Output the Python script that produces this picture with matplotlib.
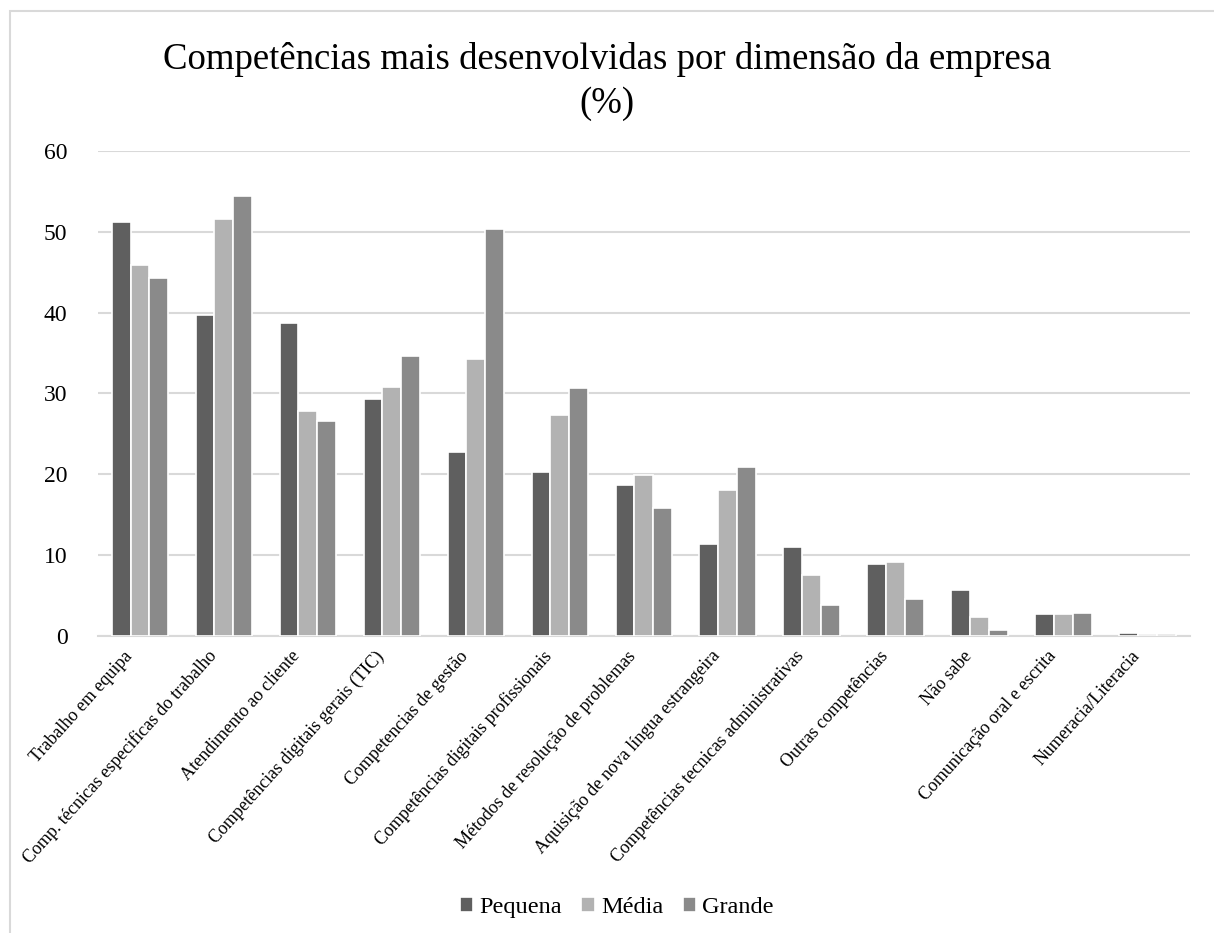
import numpy as np
import matplotlib.pyplot as plt
import matplotlib.transforms as mtransforms
from matplotlib.patches import Rectangle

plt.rcParams['font.family'] = ['Liberation Serif', 'DejaVu Serif']

categorias = [
    "Trabalho em equipa",
    "Comp. técnicas especificas do trabalho",
    "Atendimento ao cliente",
    "Competências digitais gerais (TIC)",
    "Competencias de gestão",
    "Competências digitais profissionais",
    "Métodos de resolução de problemas",
    "Aquisição de nova língua estrangeira",
    "Competências tecnicas administrativas",
    "Outras competências",
    "Não sabe",
    "Comunicação oral e escrita",
    "Numeracia/Literacia",
]
pequena = [51.2, 39.7, 38.7, 29.3, 22.8, 20.3, 18.7, 11.4, 11.0, 8.9, 5.7, 2.7, 0.4]
media = [45.9, 51.6, 27.8, 30.8, 34.3, 27.4, 19.9, 18.1, 7.5, 9.2, 2.3, 2.7, 0.3]
grande = [44.3, 54.4, 26.6, 34.6, 50.4, 30.7, 15.8, 20.9, 3.8, 4.6, 0.8, 2.8, 0.2]

series = [("Pequena", pequena, "#5f5f5f"),
          ("Média", media, "#b2b2b2"),
          ("Grande", grande, "#8a8a8a")]

fig = plt.figure(figsize=(12.14, 9.33), dpi=100)
ax = fig.add_axes([0.0807, 0.3183, 0.8993, 0.5199])

# moldura cinzenta à volta do gráfico
fig.patches.append(Rectangle((0.008, -0.01), 1.0, 0.998, transform=fig.transFigure,
                             fill=False, edgecolor="#d9d9d9", lw=1.5))

x = np.arange(len(categorias))
w = 0.225
for i, (nome, vals, cor) in enumerate(series):
    ax.bar(x + (i - 1) * w, vals, w, color=cor, edgecolor="white", lw=1.2,
           label=nome, zorder=3)

ax.set_xlim(-0.5, len(categorias) - 0.5)
ax.set_ylim(0, 60)
ax.set_yticks(range(0, 61, 10))
ax.yaxis.grid(True, color="#d9d9d9", lw=1.5, zorder=0)
for s in ["top", "right", "left"]:
    ax.spines[s].set_visible(False)
ax.spines["bottom"].set_color("#d9d9d9")
ax.spines["bottom"].set_linewidth(1.5)
ax.tick_params(length=0)
ax.tick_params(axis="y", labelsize=17, pad=22)
ax.set_xticks(x)
ax.set_xticklabels(categorias, rotation=48, ha="right", va="center_baseline",
                   rotation_mode="anchor", fontsize=13)
ax.tick_params(axis="x", pad=0)
desloc = mtransforms.ScaledTranslation(-0.12, -0.16, fig.dpi_scale_trans)
for lbl in ax.get_xticklabels():
    lbl.set_transform(lbl.get_transform() + desloc)

fig.text(0.5, 0.936, "Competências mais desenvolvidas por dimensão da empresa",
         ha="center", va="center", fontsize=26.5)
fig.text(0.5, 0.889, "(%)", ha="center", va="center", fontsize=26.5)

fig.legend(loc="center", bbox_to_anchor=(0.508, 0.027), ncol=3, frameon=False,
           fontsize=17.5, handlelength=0.55, handleheight=0.55, handletextpad=0.25,
           columnspacing=0.8)

fig.savefig("out.png", dpi=100)
